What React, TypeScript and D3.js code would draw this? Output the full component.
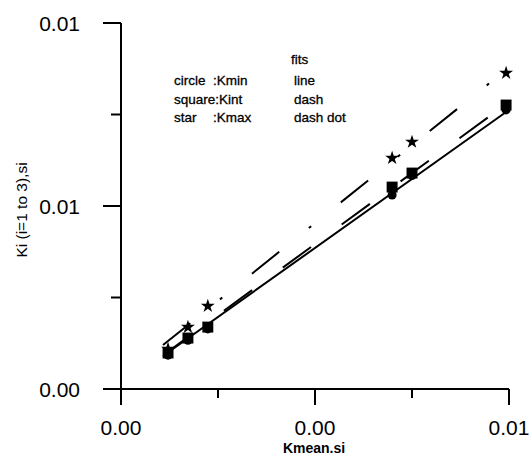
import React from 'react';
import * as d3 from 'd3';

const xTicks = [0, 0.004, 0.008];
const xTickLabels = ['0.00', '0.00', '0.01'];
const xMinorTicks = [0.002, 0.006];
const yTicks = [0, 0.006, 0.012];
const yTickLabels = ['0.00', '0.01', '0.01'];
const yMinorTicks = [0.003, 0.009];

const kmean = [0.00097, 0.00138, 0.00179, 0.00559, 0.006, 0.00794];
const kmin = [0.00111, 0.0016, 0.00197, 0.00636, 0.007, 0.00915];
const kint = [0.00118, 0.00167, 0.00203, 0.00662, 0.00708, 0.00931];
const kmax = [0.00131, 0.00203, 0.00272, 0.00757, 0.0081, 0.01036];

const fitMinX = [0.000866, 0.00794];
const fitMinY = [0.00108, 0.00908];
const fitIntX = [0.000907, 0.00794];
const fitIntY = [0.00115, 0.00934];
const fitMaxX = [0.000866, 0.00788];
const fitMaxY = [0.00144, 0.01039];

const legendRows = [
  ['circle', ':Kmin', 'line'],
  ['square:Kint', '', 'dash'],
  ['star', ':Kmax', 'dash dot'],
];

const W = 532;
const H = 455;
const FONT = 'Arial, "Liberation Sans", Helvetica, sans-serif';

export default function App() {
  const x = d3.scaleLinear().domain([0, 0.008]).range([121, 509]);
  const y = d3.scaleLinear().domain([0, 0.012]).range([389, 23]);
  const line = d3
    .line<[number, number]>()
    .x((d) => x(d[0]))
    .y((d) => y(d[1]));
  const pts = (xs: number[], ys: number[]) => xs.map((v, i) => [v, ys[i]] as [number, number]);
  const sq = d3.symbol(d3.symbolSquare, 120)()!;
  const ci = d3.symbol(d3.symbolCircle, 64)()!;
  const st = d3.symbol(d3.symbolStar, 60)()!;
  const x0 = x(0);
  const y0 = y(0);

  return (
    <svg width={W} height={H} style={{ position: 'absolute', left: 0, top: 0, background: '#fff' }}>
      <rect width={W} height={H} fill="#fff" />
      <g stroke="#000" strokeWidth={2} fill="none">
        <line x1={x0} y1={y(0.012)} x2={x0} y2={y0} />
        <line x1={x0} y1={y0} x2={x(0.008)} y2={y0} />
        {xTicks.map((t, i) => (
          <line key={'xt' + i} x1={x(t)} x2={x(t)} y1={y0} y2={y0 + 16} />
        ))}
        {xMinorTicks.map((t, i) => (
          <line key={'xm' + i} x1={x(t)} x2={x(t)} y1={y0} y2={y0 + 9} />
        ))}
        {yTicks.map((t, i) => (
          <line key={'yt' + i} x1={x0 - 18} x2={x0} y1={y(t)} y2={y(t)} />
        ))}
        {yMinorTicks.map((t, i) => (
          <line key={'ym' + i} x1={x0 - 10} x2={x0} y1={y(t)} y2={y(t)} />
        ))}
      </g>
      <g fontFamily={FONT} fontSize={21} fill="#000">
        {xTicks.map((t, i) => (
          <text key={'xl' + i} x={x(t)} y={435} textAnchor="middle">
            {xTickLabels[i]}
          </text>
        ))}
        {yTicks.map((t, i) => (
          <text key={'yl' + i} x={80} y={y(t) + 7.5} textAnchor="end">
            {yTickLabels[i]}
          </text>
        ))}
      </g>
      <text x={314} y={453} textAnchor="middle" fontFamily={FONT} fontWeight="bold" fontSize={14}>
        Kmean.si
      </text>
      <text
        transform="translate(27,210) rotate(-90)"
        textAnchor="middle"
        fontFamily={FONT}
        fontSize={15.5}
      >
        Ki (i=1 to 3),si
      </text>
      <g fontFamily={FONT} fontSize={13.5} fill="#000" stroke="#000" strokeWidth={0.3}>
        <text x={291} y={64}>fits</text>
        {legendRows.map((r, i) => (
          <g key={'lg' + i}>
            <text x={174} y={85 + i * 18.5}>{r[0]}</text>
            <text x={213} y={85 + i * 18.5}>{r[1]}</text>
            <text x={294} y={85 + i * 18.5}>{r[2]}</text>
          </g>
        ))}
      </g>
      <g fill="none" stroke="#000" strokeWidth={2}>
        <path d={line(pts(fitMinX, fitMinY))!} />
        <path d={line(pts(fitIntX, fitIntY))!} strokeDasharray="35,38" />
        <path d={line(pts(fitMaxX, fitMaxY))!} strokeDasharray="35,38,3,38" />
      </g>
      <g fill="#000">
        {kmean.map((v, i) => (
          <path key={'c' + i} d={ci} transform={`translate(${x(v)},${y(kmin[i])})`} />
        ))}
        {kmean.map((v, i) => (
          <path key={'s' + i} d={sq} transform={`translate(${x(v)},${y(kint[i])})`} />
        ))}
        {kmean.map((v, i) => (
          <path key={'t' + i} d={st} transform={`translate(${x(v)},${y(kmax[i])})`} />
        ))}
      </g>
    </svg>
  );
}
